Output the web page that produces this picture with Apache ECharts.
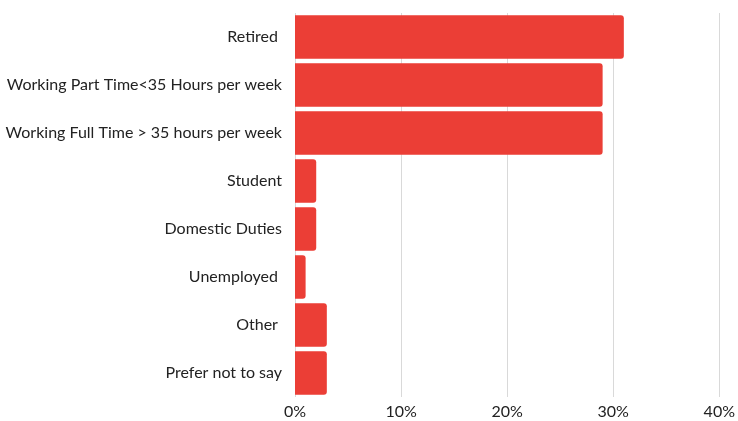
<!DOCTYPE html>
<html>
<head>
<meta charset="utf-8">
<style>
  html, body { margin: 0; padding: 0; background: #fff; }
  #chart { width: 738px; height: 421px; }
</style>
<script src="https://cdn.jsdelivr.net/npm/echarts@6/dist/echarts.min.js"></script>
</head>
<body>
<div id="chart"></div>
<script>
// Employment status, share of respondents (%)
const categories = [
  'Retired ',
  'Working Part Time<35 Hours per week',
  'Working Full Time > 35 hours per week',
  'Student',
  'Domestic Duties',
  'Unemployed ',
  'Other ',
  'Prefer not to say'
];
const shares = [31, 29, 29, 2, 2, 1, 3, 3];
const tickValues = [0, 10, 20, 30, 40];

const chart = echarts.init(document.getElementById('chart'), null, { renderer: 'canvas' });
const fontFamily = 'Lato, "Open Sans", sans-serif';

chart.setOption({
  animation: false,
  grid: { left: 295, right: 14, top: 13, bottom: 24, containLabel: false },
  xAxis: {
    type: 'value',
    min: tickValues[0],
    max: tickValues[tickValues.length - 1],
    interval: 10,
    axisLine: { show: false },
    axisTick: { show: false },
    splitLine: { show: true, lineStyle: { color: '#d9d9d9', width: 1 } },
    axisLabel: {
      formatter: '{value}%',
      color: '#222',
      fontSize: 16,
      fontFamily: fontFamily,
      margin: 7
    }
  },
  yAxis: {
    type: 'category',
    inverse: true,
    data: categories,
    axisLine: { show: false },
    axisTick: { show: false },
    axisLabel: {
      color: '#222',
      fontSize: 16,
      fontFamily: fontFamily,
      margin: 13
    }
  },
  series: [{
    type: 'bar',
    data: shares,
    barCategoryGap: '9.5%',
    itemStyle: { color: '#EB3E36', borderRadius: [0, 3, 3, 0] }
  }]
});
</script>
</body>
</html>
